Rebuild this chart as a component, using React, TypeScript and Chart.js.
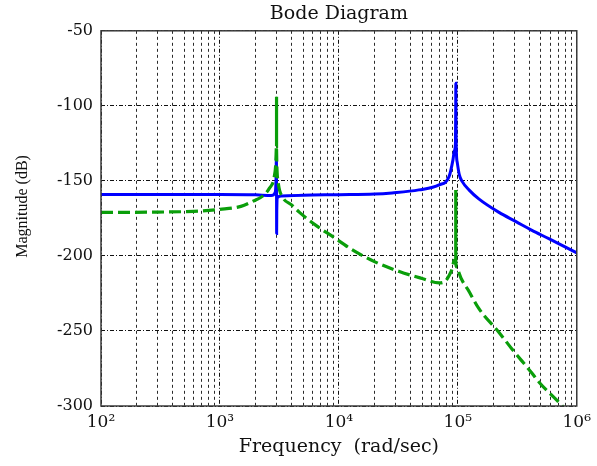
import { useEffect, useRef } from "react";
import { Chart, registerables } from "chart.js";

Chart.register(...registerables);

// Frequency axis (rad/sec), decades and their labels
const decades = [100, 1000, 10000, 100000, 1000000];
const decadeLabels = ["10²", "10³", "10⁴", "10⁵", "10⁶"];
// Magnitude axis ticks (dB)
const magTicks = [-300, -250, -200, -150, -100, -50];

// Response 1 (solid blue): notch near 3e3, resonance near 9.6e4
const blueFreq = [
  100, 1000, 2000, 2700, 2900, 2960, 2985, 2992, 2997, 3005, 3050, 3300, 5000,
  10000, 20000, 28000, 47000, 69600, 84500, 91000, 93500, 95500, 96000, 96200,
  96400, 97000, 99000, 103000, 109000, 124000, 150000, 222000, 306000, 420000,
  582000, 1000000,
];
const blueMag = [
  -159, -159, -159.3, -159.8, -158, -150, -133, -160, -185, -170, -161, -160,
  -159.5, -159.2, -158.8, -158, -156, -152.7, -147, -136, -130, -125, -100, -85,
  -105, -128, -138, -146, -150.5, -156, -162, -171, -177, -183, -188.5, -198,
];

// Response 2 (dashed green): resonance near 3e3, dip near 9.6e4
const greenFreq = [
  100, 300, 600, 1000, 1500, 1900, 2300, 2600, 2850, 2950, 2985, 3010, 3100,
  3360, 4000, 4665, 6500, 8830, 13000, 19900, 32200, 50000, 69600, 78000, 84500,
  90000, 93000, 95500, 97000, 100000, 102000, 125000, 150000, 222000, 285000,
  419000, 480000, 735000, 900000,
];
const greenMag = [
  -171, -170.8, -170.3, -169, -167, -163.5, -160, -155, -148, -138, -127, -140,
  -152, -160.7, -166, -171, -180, -187, -196, -203.8, -210.4, -215, -218, -217,
  -213, -208, -203, -204, -207, -208, -211, -224, -235, -251, -262, -278, -284,
  -299, -307,
];

// Narrow resonant spikes of response 2 (drawn solid)
const spikeFreq = [2988, 2990, 2992, 50000, 95900, 96000, 96100];
const spikeMag = [-127, -94, -127, NaN, -205, -156, -205];

// Grid frequencies: 1..9 times each decade
const gridFreq: number[] = [];
for (const d of decades.slice(0, -1)) {
  for (let m = 1; m <= 9; m++) gridFreq.push(d * m);
}
gridFreq.push(decades[decades.length - 1]);

const yTitle = "Magnitude (dB)";

const toPoints = (xs: number[], ys: number[]) =>
  xs.map((x, i) => ({ x, y: Number.isNaN(ys[i]) ? null : ys[i] }));

// Box around the plot area and the rotated magnitude label
const framePlugin = {
  id: "frame",
  afterDatasetsDraw(chart: Chart) {
    const { ctx, chartArea } = chart;
    ctx.save();
    ctx.strokeStyle = "#3a3a3a";
    ctx.lineWidth = 1.5;
    ctx.strokeRect(
      chartArea.left,
      chartArea.top,
      chartArea.right - chartArea.left,
      chartArea.bottom - chartArea.top
    );
    ctx.restore();
  },
  afterDraw(chart: Chart) {
    const { ctx, chartArea } = chart;
    ctx.save();
    ctx.translate(23, (chartArea.top + chartArea.bottom) / 2 - 12);
    ctx.rotate(-Math.PI / 2);
    ctx.fillStyle = "#111";
    ctx.font = "16px 'Liberation Serif', serif";
    ctx.textAlign = "center";
    ctx.textBaseline = "middle";
    ctx.fillText(yTitle, 0, 0);
    ctx.restore();
  },
};

export default function App() {
  const canvasRef = useRef<HTMLCanvasElement | null>(null);

  useEffect(() => {
    document.body.style.margin = "0";
    const canvas = canvasRef.current;
    if (!canvas) return;

    const serif = "'DejaVu Serif', 'Liberation Serif', serif";
    const majorDash = [4, 2, 1, 2];
    const minorDash = [3, 3];

    const chart = new Chart(canvas, {
      type: "line",
      data: {
        datasets: [
          {
            data: toPoints(greenFreq, greenMag),
            borderColor: "#0a9e0a",
            borderWidth: 3.2,
            borderDash: [12, 5],
            pointRadius: 0,
            cubicInterpolationMode: "monotone",
          },
          {
            data: toPoints(spikeFreq, spikeMag),
            borderColor: "#0a9e0a",
            borderWidth: 3.2,
            pointRadius: 0,
            tension: 0,
            spanGaps: false,
          },
          {
            data: toPoints(blueFreq, blueMag),
            borderColor: "#0000ff",
            borderWidth: 3,
            pointRadius: 0,
            cubicInterpolationMode: "monotone",
          },
        ],
      },
      options: {
        responsive: false,
        animation: false,
        devicePixelRatio: 1,
        parsing: false,
        layout: { padding: { left: 0, right: 19, top: 0, bottom: 0 } },
        plugins: {
          legend: { display: false },
          tooltip: { enabled: false },
          title: {
            display: true,
            text: "Bode Diagram",
            fullSize: false,
            color: "#111",
            font: { family: serif, size: 19, weight: "normal" },
            padding: { top: 3, bottom: 5 },
          },
        },
        scales: {
          x: {
            type: "logarithmic",
            min: decades[0],
            max: decades[decades.length - 1],
            afterBuildTicks: (scale: any) => {
              scale.ticks = gridFreq.map((v) => ({
                value: v,
                major: decades.includes(v),
              }));
            },
            afterFit: (scale: any) => {
              scale.height = 60;
            },
            ticks: {
              autoSkip: false,
              maxRotation: 0,
              minRotation: 0,
              padding: 6,
              color: "#111",
              font: { family: serif, size: 17 },
              callback: (value: any) => {
                const i = decades.indexOf(Number(value));
                return i >= 0 ? decadeLabels[i] : "";
              },
            },
            grid: {
              drawTicks: false,
              lineWidth: 1,
              color: (ctx: any) =>
                ctx.tick && ctx.tick.major ? "#111" : "#2a2a2a",
            },
            border: {
              display: false,
              dash: (ctx: any) =>
                ctx.tick ? (ctx.tick.major ? majorDash : minorDash) : [],
            },
            title: {
              display: true,
              text: "Frequency  (rad/sec)",
              color: "#111",
              font: { family: serif, size: 19 },
              padding: { top: 0, bottom: 8 },
            },
          },
          y: {
            type: "linear",
            min: magTicks[0],
            max: magTicks[magTicks.length - 1],
            afterBuildTicks: (scale: any) => {
              scale.ticks = magTicks.map((v) => ({ value: v }));
            },
            afterFit: (scale: any) => {
              scale.width = 101;
            },
            ticks: {
              padding: 8,
              color: "#111",
              font: { family: serif, size: 16 },
            },
            grid: {
              drawTicks: false,
              lineWidth: 1,
              color: "#111",
            },
            border: {
              display: false,
              dash: (ctx: any) => (ctx.tick ? majorDash : []),
            },
            title: { display: false },
          },
        },
      },
      plugins: [framePlugin],
    });

    return () => chart.destroy();
  }, []);

  return (
    <div style={{ width: 597, height: 466, background: "#fff" }}>
      <canvas ref={canvasRef} width={597} height={466} />
    </div>
  );
}
